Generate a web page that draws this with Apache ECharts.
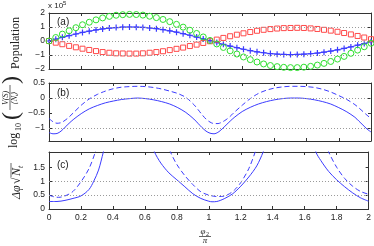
<!DOCTYPE html>
<html><head><meta charset="utf-8">
<script src="https://cdn.jsdelivr.net/npm/echarts@6/dist/echarts.min.js"></script>
<style>html,body{margin:0;padding:0;background:#fff}#c{width:374px;height:246px}</style>
</head><body><div id="c"></div>
<script>
// ---------- data ----------
const popX = [0,0.042,0.083,0.125,0.167,0.208,0.25,0.292,0.333,0.375,0.417,0.458,0.5,0.542,0.583,0.625,0.667,0.708,0.75,0.792,0.833,0.875,0.917,0.958,1,1.042,1.083,1.125,1.167,1.208,1.25,1.292,1.333,1.375,1.417,1.458,1.5,1.542,1.583,1.625,1.667,1.708,1.75,1.792,1.833,1.875,1.917,1.958,2];
const popBlue = [0,0.13,0.26,0.38,0.5,0.61,0.7,0.79,0.86,0.92,0.96,0.99,1.0,0.99,0.97,0.93,0.88,0.81,0.73,0.63,0.52,0.41,0.28,0.15,0.02,-0.11,-0.24,-0.36,-0.48,-0.59,-0.69,-0.77,-0.84,-0.9,-0.94,-0.96,-0.97,-0.96,-0.94,-0.91,-0.86,-0.8,-0.72,-0.63,-0.53,-0.42,-0.3,-0.18,-0.05];
const popRed = [0,-0.12,-0.23,-0.35,-0.45,-0.55,-0.64,-0.72,-0.79,-0.84,-0.88,-0.89,-0.9,-0.9,-0.88,-0.84,-0.79,-0.73,-0.65,-0.56,-0.47,-0.36,-0.26,-0.14,-0.02,0.1,0.22,0.34,0.45,0.55,0.64,0.73,0.8,0.85,0.89,0.92,0.93,0.94,0.93,0.9,0.86,0.8,0.74,0.66,0.57,0.47,0.36,0.25,0.13];
const popGreen = [0,0.25,0.49,0.73,0.95,1.16,1.34,1.51,1.65,1.76,1.84,1.88,1.9,1.89,1.85,1.77,1.67,1.54,1.38,1.19,0.99,0.77,0.54,0.29,0.04,-0.21,-0.46,-0.7,-0.93,-1.14,-1.33,-1.5,-1.64,-1.75,-1.83,-1.88,-1.9,-1.9,-1.87,-1.81,-1.72,-1.6,-1.46,-1.29,-1.1,-0.88,-0.65,-0.41,-0.16];

const varX = [0,0.025,0.05,0.075,0.1,0.125,0.15,0.2,0.25,0.3,0.35,0.4,0.45,0.5,0.55,0.6,0.65,0.7,0.75,0.8,0.85,0.9,0.925,0.95,0.975,1,1.025,1.05,1.075,1.1,1.125,1.15,1.2,1.25,1.3,1.35,1.4,1.45,1.5,1.55,1.6,1.65,1.7,1.75,1.8,1.85,1.9,1.925,1.95,1.975,2];
const varSolid = [-1.15,-1.19,-1.18,-1.1,-0.97,-0.84,-0.72,-0.52,-0.36,-0.25,-0.16,-0.1,-0.05,-0.02,0,-0.02,-0.06,-0.12,-0.2,-0.32,-0.48,-0.7,-0.84,-0.98,-1.1,-1.17,-1.19,-1.14,-1.03,-0.9,-0.77,-0.65,-0.45,-0.31,-0.2,-0.12,-0.06,-0.02,0,0,-0.02,-0.06,-0.12,-0.2,-0.32,-0.46,-0.64,-0.77,-0.9,-1.03,-1.13];
const varDashed = [-0.68,-0.79,-0.84,-0.82,-0.74,-0.63,-0.5,-0.24,-0.03,0.12,0.23,0.31,0.36,0.38,0.39,0.38,0.35,0.3,0.23,0.15,0.02,-0.22,-0.38,-0.55,-0.7,-0.8,-0.85,-0.85,-0.8,-0.72,-0.61,-0.48,-0.24,-0.02,0.15,0.26,0.33,0.37,0.39,0.39,0.38,0.35,0.29,0.2,0.08,-0.05,-0.22,-0.33,-0.45,-0.57,-0.68];

const phsSolidX = [0,0.05,0.1,0.15,0.2,0.25,0.28,0.31,0.34,0.35,0.5,0.65,0.66,0.7,0.75,0.8,0.85,0.9,0.95,1,1.02,1.05,1.1,1.15,1.2,1.25,1.3,1.34,1.36,1.5,1.66,1.67,1.7,1.75,1.8,1.85,1.9,1.95,2];
const phsSolid = [0.27,0.27,0.31,0.38,0.47,0.7,1.0,1.4,2.05,2.3,null,2.3,2.05,1.65,1.3,1.05,0.8,0.55,0.38,0.28,0.26,0.27,0.38,0.55,0.82,1.15,1.55,2.05,2.4,null,2.4,2.05,1.75,1.35,1.05,0.8,0.58,0.4,0.28];
const phsDashedX = [0,0.03,0.06,0.1,0.15,0.2,0.25,0.29,0.3,0.5,0.74,0.76,0.8,0.85,0.9,0.95,1,1.05,1.08,1.12,1.16,1.2,1.25,1.29,1.3,1.5,1.73,1.75,1.8,1.85,1.9,1.95,2];
const phsDashed = [0.5,0.44,0.42,0.47,0.63,0.98,1.45,2.05,2.3,null,2.4,2.05,1.6,1.2,0.88,0.62,0.5,0.45,0.45,0.52,0.68,0.95,1.45,2.05,2.3,null,2.4,2.05,1.5,1.1,0.82,0.63,0.53];

const xTicks = [0,0.2,0.4,0.6,0.8,1,1.2,1.4,1.6,1.8,2];
const yTicksA = [-2,-1,0,1,2];
const yTicksB = [-1,-0.5,0,0.5];
const yTicksC = [0,0.5,1,1.5];
const dotsA = [-1,0,1];
const dotsB = [-1,0];
const dotsC = [0.5,1];

// ---------- chart ----------
const BLUE = '#3c3cff', RED = '#ff4a4a', GREEN = '#2fe02f';
const AX = '#333';
const sans = '"Liberation Sans", Arial, sans-serif';
const serif = '"Liberation Serif", "DejaVu Serif", serif';
const grids = [
  {left:49, right:3, top:13, height:56},
  {left:49, right:3, top:83, height:58},
  {left:49, right:3, top:152, height:57}
];
const yRanges = [[-2,2],[-1.43,0.5],[0,2.05]];
const yTicks = [yTicksA, yTicksB, yTicksC];
const fmt = v => (v < 0 ? '\u2212' : '') + String(Math.abs(v));

const xAxis = [], yAxis = [];
for (let i = 0; i < 3; i++) {
  xAxis.push({gridIndex:i, type:'value', min:0, max:2, position:'bottom',
    axisLine:{show:true, onZero:false, lineStyle:{color:AX, width:1}},
    axisTick:{show:true, inside:true, length:3, customValues:xTicks, lineStyle:{color:AX}},
    axisLabel:{show:i===2, customValues:xTicks, formatter:fmt, fontSize:8.5, fontFamily:sans, color:'#222', margin:4},
    splitLine:{show:false}});
  xAxis.push({gridIndex:i, type:'value', min:0, max:2, position:'top',
    axisLine:{show:true, onZero:false, lineStyle:{color:AX, width:1}},
    axisTick:{show:true, inside:true, length:3, customValues:xTicks, lineStyle:{color:AX}},
    axisLabel:{show:false}, splitLine:{show:false}});
  yAxis.push({gridIndex:i, type:'value', min:yRanges[i][0], max:yRanges[i][1], position:'left',
    axisLine:{show:true, onZero:false, lineStyle:{color:AX, width:1}},
    axisTick:{show:true, inside:true, length:3, customValues:yTicks[i], lineStyle:{color:AX}},
    axisLabel:{show:true, customValues:yTicks[i], formatter:fmt, fontSize:8.5, fontFamily:sans, color:'#222', margin:4},
    splitLine:{show:false}});
  yAxis.push({gridIndex:i, type:'value', min:yRanges[i][0], max:yRanges[i][1], position:'right',
    axisLine:{show:true, onZero:false, lineStyle:{color:AX, width:1}},
    axisTick:{show:true, inside:true, length:3, customValues:yTicks[i], lineStyle:{color:AX}},
    axisLabel:{show:false}, splitLine:{show:false}});
}

const pairs = (xs, ys) => xs.map((x, k) => [x, ys[k] == null ? '-' : ys[k]]);
const dotLines = (vals) => ({silent:true, symbol:'none', label:{show:false},
  lineStyle:{type:[1,2], color:'#9a9a9a', width:1}, data: vals.map(v => ({yAxis:v}))});

const series = [
  {type:'line', xAxisIndex:0, yAxisIndex:0, data:pairs(popX, popBlue), symbol:'path://M4,0H6V4H10V6H6V10H4V6H0V4H4Z',
   symbolSize:6, showSymbol:true, lineStyle:{color:BLUE, width:1}, itemStyle:{color:BLUE}, z:3,
   markLine:dotLines(dotsA)},
  {type:'scatter', xAxisIndex:0, yAxisIndex:0, data:pairs(popX, popRed), symbol:'rect', symbolSize:5,
   itemStyle:{color:'rgba(0,0,0,0)', borderColor:RED, borderWidth:1, opacity:1}, z:4},
  {type:'scatter', xAxisIndex:0, yAxisIndex:0, data:pairs(popX, popGreen), symbol:'circle', symbolSize:6,
   itemStyle:{color:'rgba(0,0,0,0)', borderColor:GREEN, borderWidth:1, opacity:1}, z:5},
  {type:'line', xAxisIndex:2, yAxisIndex:2, data:pairs(varX, varSolid), smooth:0.3, showSymbol:false,
   lineStyle:{color:BLUE, width:1}, markLine:dotLines(dotsB)},
  {type:'line', xAxisIndex:2, yAxisIndex:2, data:pairs(varX, varDashed), smooth:0.3, showSymbol:false,
   lineStyle:{color:BLUE, width:1, type:[5,3]}},
  {type:'line', xAxisIndex:4, yAxisIndex:4, data:pairs(phsSolidX, phsSolid), smooth:0.3, showSymbol:false, clip:true,
   connectNulls:false, lineStyle:{color:BLUE, width:1}, markLine:dotLines(dotsC)},
  {type:'line', xAxisIndex:4, yAxisIndex:4, data:pairs(phsDashedX, phsDashed), smooth:0.3, showSymbol:false, clip:true,
   connectNulls:false, lineStyle:{color:BLUE, width:1, type:[5,3]}}
];

const T = (x, y, text, font, extra) => Object.assign({type:'text', x, y, silent:true,
  style:Object.assign({text, font, fill:'#222'}, extra || {})});

const graphic = [
  T(48, 2, 'x 10', '8px ' + sans, {align:'left', verticalAlign:'top'}),
  T(63, 0, '5', '6px ' + sans, {align:'left', verticalAlign:'top'}),
  T(57, 22, '(a)', '10px ' + sans, {align:'left', verticalAlign:'middle'}),
  T(57, 93, '(b)', '10px ' + sans, {align:'left', verticalAlign:'middle'}),
  T(57, 165, '(c)', '10px ' + sans, {align:'left', verticalAlign:'middle'}),
  // y-name (a)
  {type:'text', x:16, y:43, rotation:Math.PI/2, silent:true,
   style:{text:'Population', font:'12px ' + serif, fill:'#222', align:'center', verticalAlign:'middle'}},
  // y-name (b): log10( V(S) / <N_t> )
  {type:'group', x:13, y:112, rotation:Math.PI/2, silent:true, children:[
    T(-36, 1, 'log', '12px ' + serif, {align:'left', verticalAlign:'middle'}),
    T(-19, 6, '10', '8px ' + serif, {align:'left', verticalAlign:'middle'}),
    T(-8, -1, '(', '24px ' + serif, {align:'left', verticalAlign:'middle'}),
    T(14, -7, 'V(S)', 'italic 8px ' + serif, {align:'center', verticalAlign:'middle'}),
    {type:'line', shape:{x1:2, y1:-3, x2:27, y2:-3}, style:{stroke:'#222', lineWidth:0.7}},
    T(14, 2, '\u27e8N{s|t}\u27e9', 'italic 8px ' + serif, {align:'center', verticalAlign:'middle',
      rich:{s:{fontSize:5, fontStyle:'italic', fontFamily:serif, verticalAlign:'bottom', padding:[4,0,0,0]}}}),
    T(28, -1, ')', '24px ' + serif, {align:'left', verticalAlign:'middle'})
  ]},
  // y-name (c): Δφ √N_t
  {type:'group', x:17, y:181, rotation:Math.PI/2, silent:true, children:[
    T(-18, 0, '\u0394\u03c6', 'italic 12px ' + serif, {align:'left', verticalAlign:'middle'}),
    T(-3, 0, '\u221a', '12px ' + serif, {align:'left', verticalAlign:'middle'}),
    {type:'line', shape:{x1:4, y1:-6, x2:18, y2:-6}, style:{stroke:'#222', lineWidth:0.7}},
    T(5, 0, 'N', 'italic 12px ' + serif, {align:'left', verticalAlign:'middle'}),
    T(13, 4, 't', 'italic 8px ' + serif, {align:'left', verticalAlign:'middle'})
  ]},
  // x-name: φ2 / π
  T(203, 232, '\u03c6', 'italic 9px ' + serif, {align:'center', verticalAlign:'middle'}),
  T(206, 234, '2', '6px ' + serif, {align:'left', verticalAlign:'middle'}),
  {type:'line', silent:true, shape:{x1:199, y1:236.5, x2:211, y2:236.5}, style:{stroke:'#222', lineWidth:0.7}},
  T(205, 241, '\u03c0', 'italic 9px ' + serif, {align:'center', verticalAlign:'middle'})
];

const chart = echarts.init(document.getElementById('c'), null, {renderer:'canvas'});
chart.setOption({animation:false, backgroundColor:'#fff', grid:grids, xAxis, yAxis, series, graphic});
</script></body></html>
